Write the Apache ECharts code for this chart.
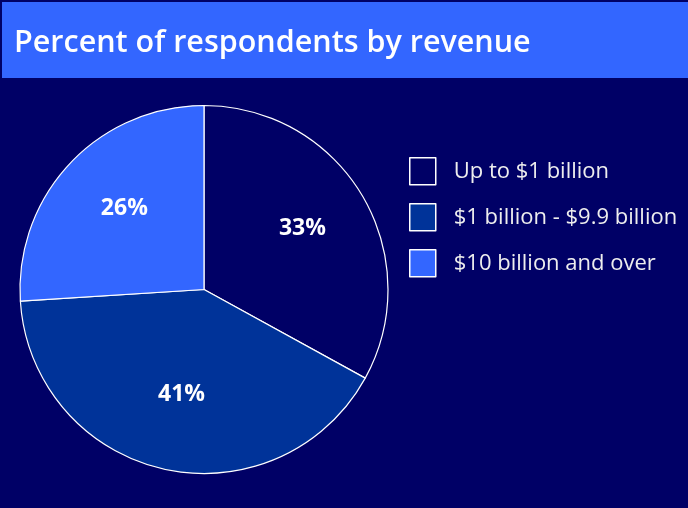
<!DOCTYPE html>
<html>
<head>
<meta charset="utf-8">
<script src="https://cdn.jsdelivr.net/npm/echarts@6/dist/echarts.min.js"></script>
<style>
  html, body { margin: 0; padding: 0; background: #000066; }
  #chart { width: 688px; height: 508px; }
</style>
</head>
<body>
<div id="chart"></div>
<script>
// Revenue bands and their share of respondents (%)
const categories = ['Up to $1 billion', '$1 billion - $9.9 billion', '$10 billion and over'];
const shares = [33, 41, 26];
const sliceColors = ['#000066', '#003399', '#3366ff'];

const FONT = '"Open Sans", Lato, sans-serif';

const pieData = categories.map((name, i) => ({
  name: name,
  value: shares[i],
  itemStyle: { color: sliceColors[i] }
}));

const chart = echarts.init(document.getElementById('chart'), null, { renderer: 'canvas' });

chart.setOption({
  backgroundColor: '#000066',
  animation: false,
  graphic: [{
    type: 'rect',
    shape: { x: 2, y: 2, width: 686, height: 76 },
    style: { fill: '#3366ff' },
    z: 0
  }],
  title: {
    text: 'Percent of respondents by revenue',
    left: 14,
    top: 28,
    padding: 0,
    textStyle: { color: '#ffffff', fontFamily: FONT, fontWeight: 600, fontSize: 30.5 },
    z: 5
  },
  legend: {
    orient: 'vertical',
    left: 409,
    top: 157,
    padding: 0,
    icon: 'rect',
    itemWidth: 26,
    itemHeight: 27,
    itemGap: 17.5,
    selectedMode: false,
    data: categories,
    itemStyle: { borderColor: '#ffffff', borderWidth: 1.5 },
    textStyle: { color: '#eeeeee', fontFamily: FONT, fontSize: 22, padding: [0, 0, 0, 13] }
  },
  series: [
    {
      // the pie itself
      type: 'pie',
      center: [204, 289.5],
      radius: [0, 184],
      startAngle: 90,
      clockwise: true,
      silent: true,
      label: { show: false },
      labelLine: { show: false },
      itemStyle: { borderColor: '#ffffff', borderWidth: 1.2 },
      data: pieData
    },
    {
      // percentage labels, placed a bit further out than the slice midpoint
      type: 'pie',
      center: [204, 289.5],
      radius: [36, 182],
      startAngle: 90,
      clockwise: true,
      silent: true,
      itemStyle: { color: 'rgba(0,0,0,0)', borderWidth: 0 },
      label: {
        show: true,
        position: 'inside',
        formatter: '{c}%',
        offset: [2, -4],
        color: '#ffffff',
        fontFamily: FONT,
        fontWeight: 'bold',
        fontSize: 23
      },
      labelLine: { show: false },
      data: categories.map((name, i) => ({ name: name, value: shares[i] }))
    }
  ]
});
</script>
</body>
</html>
